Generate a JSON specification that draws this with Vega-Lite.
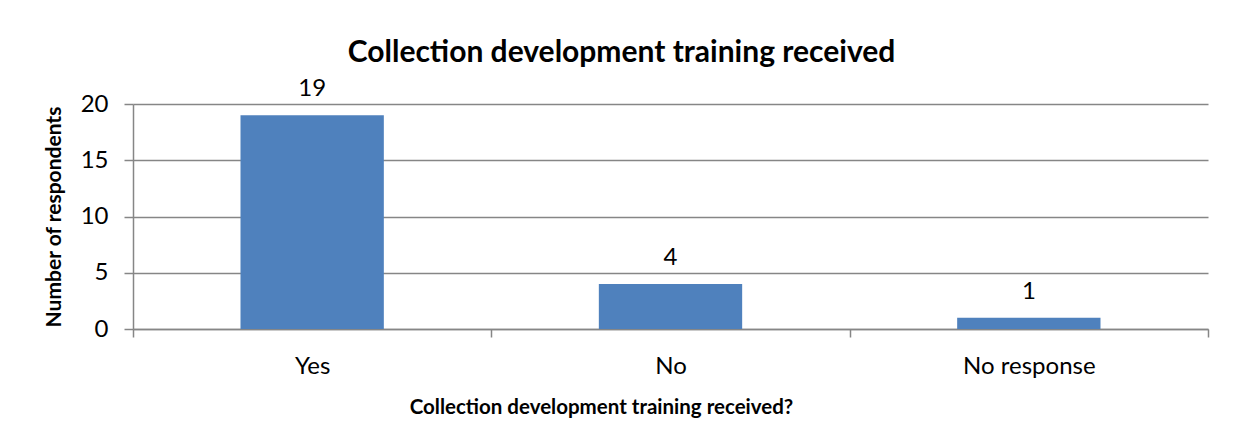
{
  "$schema": "https://vega.github.io/schema/vega-lite/v6.json",
  "autosize": {"type": "none"},
  "width": 1075,
  "height": 225,
  "padding": {"left": 133, "top": 104, "right": 28, "bottom": 115},
  "background": "white",
  "config": {
    "font": "Lato",
    "view": {"stroke": null}
  },
  "title": {
    "text": "Collection development training received",
    "font": "Lato",
    "fontSize": 30,
    "fontWeight": "bold",
    "color": "black",
    "anchor": "middle",
    "baseline": "alphabetic",
    "dx": -49,
    "dy": 57,
    "offset": 42
  },
  "data": {
    "values": [
      {"answer": "Yes", "count": 19},
      {"answer": "No", "count": 4},
      {"answer": "No response", "count": 1}
    ]
  },
  "encoding": {
    "x": {
      "field": "answer",
      "type": "nominal",
      "sort": null,
      "scale": {"paddingInner": 0, "paddingOuter": 0},
      "axis": {
        "title": "Collection development training received?",
        "titleFont": "Lato",
        "titleFontSize": 20.5,
        "titleFontWeight": "bold",
        "titleColor": "black",
        "titleX": 468,
        "titleY": 84,
        "titleBaseline": "alphabetic",
        "labelAngle": 0,
        "labelFont": "Lato",
        "labelFontSize": 24,
        "labelColor": "black",
        "labelPadding": 17,
        "tickBand": "extent",
        "tickSize": 8,
        "tickColor": "#868686",
        "tickWidth": 1.5,
        "domainColor": "#868686",
        "domainWidth": 1.5,
        "grid": false
      }
    },
    "y": {
      "field": "count",
      "type": "quantitative",
      "scale": {"domain": [0, 20]},
      "axis": {
        "title": "Number of respondents",
        "titleFont": "Lato",
        "titleFontSize": 21,
        "titleFontWeight": "bold",
        "titleColor": "black",
        "titlePadding": 16,
        "values": [0, 5, 10, 15, 20],
        "labelFont": "Lato",
        "labelFontSize": 24,
        "labelColor": "black",
        "labelPadding": 16,
        "tickSize": 9,
        "tickColor": "#868686",
        "tickWidth": 1.5,
        "domainColor": "#868686",
        "domainWidth": 1.5,
        "gridColor": "#868686",
        "gridWidth": 1.5
      }
    }
  },
  "layer": [
    {
      "mark": {"type": "bar", "color": "#4F81BD", "width": {"band": 0.4}}
    },
    {
      "mark": {"type": "text", "baseline": "alphabetic", "dy": -19, "fontSize": 24, "font": "Lato", "color": "black"},
      "encoding": {"text": {"field": "count", "type": "quantitative"}}
    }
  ]
}
